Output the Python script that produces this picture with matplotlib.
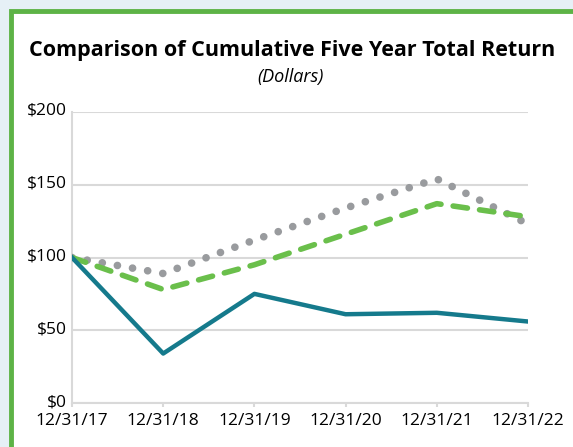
import matplotlib
matplotlib.use("Agg")
import matplotlib.pyplot as plt
import matplotlib.transforms as mtransforms
from matplotlib.patches import Rectangle

years = ["12/31/17", "12/31/18", "12/31/19", "12/31/20", "12/31/21", "12/31/22"]
company = [100, 34, 75, 61, 62, 56]
index_green = [100, 78, 95, 116, 137, 128]
index_gray = [100, 89, 112, 134, 154, 123]
yticks = [0, 50, 100, 150, 200]

plt.rcParams['font.family'] = ['Open Sans', 'DejaVu Sans']

fig = plt.figure(figsize=(5.73, 4.47), dpi=100)
fig.patch.set_facecolor("#e6f0f6")
# white panel with green frame (only top/left edges visible)
frame = Rectangle((11 / 573, -0.1), 1.2, (447 - 11) / 447 + 0.1,
                  transform=fig.transFigure, facecolor="white",
                  edgecolor="#5db346", linewidth=3.5, zorder=-1)
fig.add_artist(frame)

ax = fig.add_axes([72 / 573, 44 / 447, 456 / 573, 291 / 447])
ax.set_zorder(2)
x = range(len(years))
ax.plot(x, index_gray, color="#999b9e", linewidth=5.5, linestyle=(0, (0.01, 2.0)),
        dash_capstyle="round", zorder=3)
ax.plot(x, index_green, color="#6abf4b", linewidth=4, linestyle=(0, (2.6, 2.2)),
        dash_capstyle="round", zorder=3)
ax.plot(x, company, color="#157a8c", linewidth=3.2, zorder=4)

ax.set_xlim(0, len(years) - 1)
ax.set_ylim(0, 200)
ax.set_yticks(yticks)
ax.set_yticklabels(["$%d" % v for v in yticks])
ax.set_xticks(list(x))
ax.set_xticklabels(years)
ax.grid(axis="y", color="#d9d9d9", linewidth=1.5)
ax.set_axisbelow(True)
for s in ["top", "right"]:
    ax.spines[s].set_visible(False)
for s in ["left", "bottom"]:
    ax.spines[s].set_color("#d9d9d9")
    ax.spines[s].set_linewidth(1.5)
ax.tick_params(axis="y", length=0, labelsize=12.5, pad=4)
ax.tick_params(axis="x", length=3, color="#d9d9d9", width=1.5, labelsize=12.5, pad=4)
ax.set_facecolor("none")

# nudge y labels up a little so $0 clears the date labels
up = mtransforms.ScaledTranslation(0, 3 / 100, fig.dpi_scale_trans)
for lbl in ax.get_yticklabels():
    lbl.set_transform(lbl.get_transform() + up)

fig.text(0.51, 0.886, "Comparison of Cumulative Five Year Total Return",
         ha="center", va="center", fontsize=15.5, fontweight="bold")
fig.text(0.507, 0.828, "(Dollars)", ha="center", va="center", fontsize=13, style="italic")

fig.savefig("out.png", dpi=100)
